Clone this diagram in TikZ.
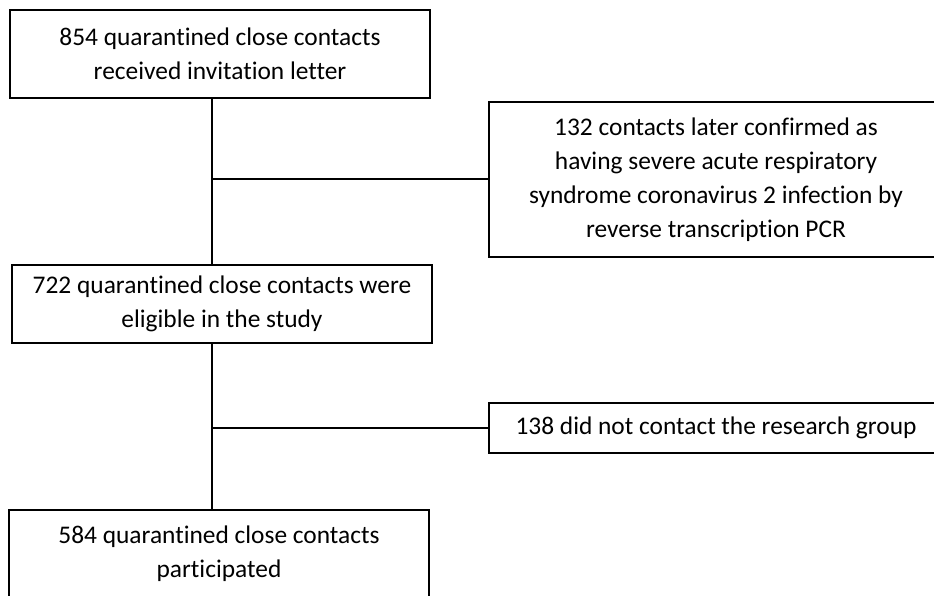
\documentclass[tikz,border=0pt]{standalone}
\usepackage{fontspec}
\setmainfont[Ligatures=NoCommon]{Carlito}
\usetikzlibrary{positioning}
\begin{document}
\begin{tikzpicture}[x=1pt,y=1pt,
        box/.style={draw=black, line width=2pt, inner sep=0pt, align=center,
            font=\fontsize{25.4}{34}\selectfont},
        mainbox/.style={box, minimum width=420pt},
        sidebox/.style={box, minimum width=454pt},
        link/.style={draw=black, line width=2pt}]
        \path[use as bounding box, clip] (0,0) rectangle (934,595);
        \fill[white] (0,0) rectangle (934,595);

        % main column
        \node[mainbox, minimum height=88pt] (invited) at (220,541)
            {854 quarantined close contacts\\received invitation letter};
        \node[mainbox, minimum height=78pt] (eligible) at (222,291)
            {722 quarantined close contacts were\\eligible in the study};
        \node[mainbox, minimum height=88pt] (participated) at (219,41)
            {584 quarantined close contacts\\participated};

        % exclusions
        \node[sidebox, minimum height=155pt] (confirmed) at (716,415.5)
            {132 contacts later confirmed as\\having severe acute respiratory\\syndrome coronavirus 2 infection by\\reverse transcription PCR};
        \node[sidebox, minimum height=50pt] (nocontact) at (716,167)
            {138 did not contact the research group};

        % connectors
        \coordinate (split1) at (212,415.5);
        \coordinate (split2) at (212,167);
        \draw[link] (split1 |- invited.south) -- (split1 |- eligible.north);
        \draw[link] (split1) -- (confirmed.west);
        \draw[link] (split2 |- eligible.south) -- (split2 |- participated.north);
        \draw[link] (split2) -- (nocontact.west);
\end{tikzpicture}
\end{document}
